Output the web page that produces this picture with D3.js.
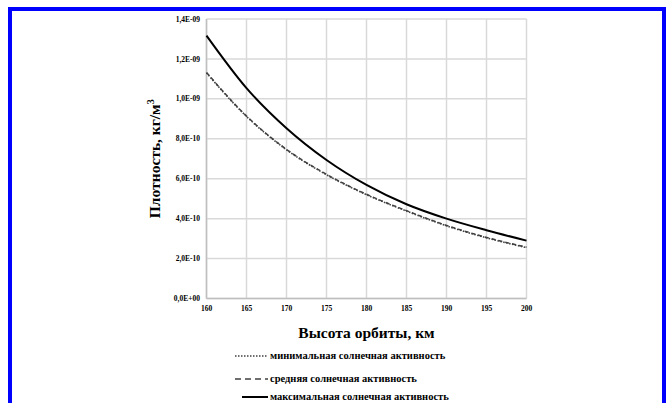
<!DOCTYPE html>
<html>
<head>
<meta charset="utf-8">
<script src="https://cdn.jsdelivr.net/npm/d3@7"></script>
<style>
  body { margin: 0; background: #fff; }
  svg { display: block; font-family: "Liberation Serif", "Times New Roman", serif; }
</style>
</head>
<body>
<div id="chart"></div>
<script>
// altitude, km
const altitude = [160, 165, 170, 175, 180, 185, 190, 195, 200];
// density, kg/m^3
const minActivity = [1.13e-9, 0.912e-9, 0.745e-9, 0.62e-9, 0.52e-9, 0.438e-9, 0.364e-9, 0.304e-9, 0.255e-9];
const midActivity = [1.132e-9, 0.914e-9, 0.747e-9, 0.622e-9, 0.522e-9, 0.44e-9, 0.366e-9, 0.306e-9, 0.257e-9];
const maxActivity = [1.317e-9, 1.054e-9, 0.853e-9, 0.694e-9, 0.569e-9, 0.472e-9, 0.4e-9, 0.342e-9, 0.29e-9];
const yTicks = [0, 2e-10, 4e-10, 6e-10, 8e-10, 1e-9, 1.2e-9, 1.4e-9];
const xTicks = [160, 165, 170, 175, 180, 185, 190, 195, 200];
const legendLabels = [
  "минимальная солнечная активность",
  "средняя солнечная активность",
  "максимальная солнечная активность"
];

const width = 666, height = 403;
const plotLeft = 206.5, plotRight = 526.5, plotTop = 19, plotBottom = 298.5;

const svg = d3.select("#chart").append("svg")
  .attr("width", width)
  .attr("height", height);

// blue frame
svg.append("rect")
  .attr("x", 10).attr("y", 9)
  .attr("width", 654).attr("height", 420)
  .attr("fill", "none")
  .attr("stroke", "#0000ff")
  .attr("stroke-width", 4);

const x = d3.scaleLinear().domain([160, 200]).range([plotLeft, plotRight]);
const y = d3.scaleLinear().domain([0, 1.4e-9]).range([plotBottom, plotTop]);

const fmt = v => {
  if (v === 0) return "0,0E+00";
  const e = Math.floor(Math.log10(v) + 1e-9);
  const m = v / Math.pow(10, e);
  const es = (e < 0 ? "-" : "+") + String(Math.abs(e)).padStart(2, "0");
  return m.toFixed(1).replace(".", ",") + "E" + es;
};

// grid
svg.append("g").selectAll("line")
  .data(xTicks)
  .join("line")
  .attr("x1", d => x(d)).attr("x2", d => x(d))
  .attr("y1", plotTop).attr("y2", plotBottom)
  .attr("stroke", "#d9d9d9").attr("stroke-width", 1.5);

svg.append("g").selectAll("line")
  .data(yTicks)
  .join("line")
  .attr("x1", plotLeft).attr("x2", plotRight)
  .attr("y1", d => y(d)).attr("y2", d => y(d))
  .attr("stroke", "#d9d9d9").attr("stroke-width", 1.5);

// axes lines
svg.append("line")
  .attr("x1", plotLeft).attr("x2", plotLeft).attr("y1", plotTop).attr("y2", plotBottom)
  .attr("stroke", "#bfbfbf").attr("stroke-width", 1.5);
svg.append("line")
  .attr("x1", plotLeft).attr("x2", plotRight).attr("y1", plotBottom).attr("y2", plotBottom)
  .attr("stroke", "#bfbfbf").attr("stroke-width", 1.5);

// tick labels
svg.append("g").selectAll("text")
  .data(yTicks)
  .join("text")
  .attr("x", 200)
  .attr("y", d => y(d))
  .attr("dy", "0.35em")
  .attr("text-anchor", "end")
  .attr("font-size", 7.5)
  .attr("font-weight", "bold")
  .text(fmt);

svg.append("g").selectAll("text")
  .data(xTicks)
  .join("text")
  .attr("x", d => x(d))
  .attr("y", 311)
  .attr("text-anchor", "middle")
  .attr("font-size", 7.5)
  .attr("font-weight", "bold")
  .text(d => d);

// axis titles
svg.append("text")
  .attr("x", (plotLeft + plotRight) / 2)
  .attr("y", 338)
  .attr("text-anchor", "middle")
  .attr("font-size", 15.5)
  .attr("font-weight", "bold")
  .text("Высота орбиты, км");

const yt = svg.append("text")
  .attr("transform", `translate(160,${(plotTop + plotBottom) / 2}) rotate(-90)`)
  .attr("text-anchor", "middle")
  .attr("font-size", 15.5)
  .attr("font-weight", "bold");
yt.append("tspan").text("Плотность, кг/м");
yt.append("tspan").attr("font-size", 10).attr("dy", -6).text("3");

// series
const pts = vals => altitude.map((a, i) => [a, vals[i]]);
const line = d3.line()
  .x(d => x(d[0]))
  .y(d => y(d[1]))
  .curve(d3.curveMonotoneX);

const styles = [
  { data: minActivity, color: "#404040", width: 1.6, dash: "1.5,1.5" },
  { data: midActivity, color: "#404040", width: 1.5, dash: "4,3" },
  { data: maxActivity, color: "#000000", width: 2, dash: null }
];

styles.forEach(s => {
  svg.append("path")
    .datum(pts(s.data))
    .attr("d", line)
    .attr("fill", "none")
    .attr("stroke", s.color)
    .attr("stroke-width", s.width)
    .attr("stroke-dasharray", s.dash);
});

// legend
const legendY = [356, 379, 397];
const legendDash = ["1.5,1.5", "6,4", null];
const legendStart = [235, 235, 242];
legendLabels.forEach((lab, i) => {
  svg.append("line")
    .attr("x1", legendStart[i]).attr("x2", 268)
    .attr("y1", legendY[i]).attr("y2", legendY[i])
    .attr("stroke", i === 2 ? "#000" : "#404040")
    .attr("stroke-width", i === 2 ? 2 : 1.6)
    .attr("stroke-dasharray", legendDash[i]);
  svg.append("text")
    .attr("x", 270)
    .attr("y", legendY[i])
    .attr("dy", "0.32em")
    .attr("font-size", 10.5)
    .attr("font-weight", "bold")
    .text(lab);
});
</script>
</body>
</html>
